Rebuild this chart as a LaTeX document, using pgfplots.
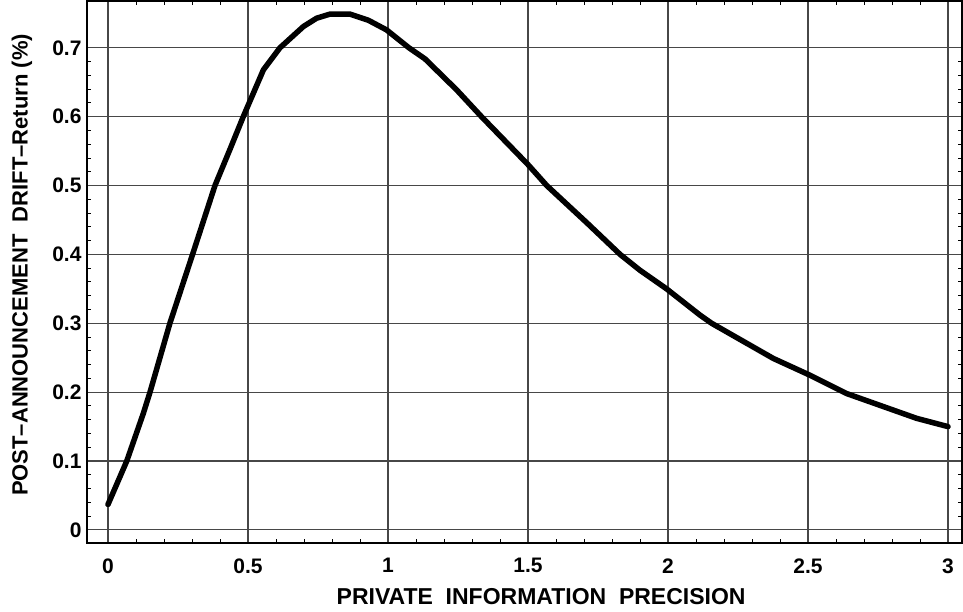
\documentclass[border=0pt]{standalone}
\usepackage{pgfplots}
\pgfplotsset{compat=1.18}
\usepackage{fontspec}
\setmainfont{Liberation Sans}
\begin{document}
\begin{tikzpicture}[x=1pt,y=1pt]
\useasboundingbox (0,0) rectangle (963,611);
\begin{axis}[
  at={(87pt,68pt)}, anchor=south west,
  scale only axis, width=875pt, height=542pt,
  xmin=-0.075, xmax=3.05, ymin=-0.019, ymax=0.768,
  xtick={0,0.5,1,1.5,2,2.5,3},
  xticklabels={0,0.5,1,1.5,2,2.5,3},
  ytick={0,0.1,0.2,0.3,0.4,0.5,0.6,0.7},
  yticklabels={0,0.1,0.2,0.3,0.4,0.5,0.6,0.7},
  minor x tick num=4, minor y tick num=4,
  tick align=inside, major tick length=0pt, minor tick length=4pt,
  minor tick style={line width=1pt, black},
  grid=major, major grid style={draw=black!72, line width=1.1pt},
  axis line style={line width=1.6pt, black},
  ticklabel style={font=\bfseries\fontsize{21}{21}\selectfont},
  xticklabel style={yshift=-12pt},
  yticklabel style={xshift=-2pt},
  xlabel={PRIVATE\ \ INFORMATION\ \ PRECISION},
  ylabel={POST--ANNOUNCEMENT\ \ DRIFT--Return (\%)},
  xlabel style={font=\bfseries\fontsize{23}{23}\selectfont, at={(axis description cs:0.519,0)}, anchor=center, yshift=-54pt},
  ylabel style={font=\bfseries\fontsize{22}{22}\selectfont, at={(axis description cs:0,0.513)}, anchor=center, yshift=65pt},
  clip=false,
]
\addplot[black, line width=5.5pt, line join=round, line cap=round] coordinates {
(0,0.037) (0.067,0.10) (0.126,0.169) (0.15,0.20) (0.221,0.30) (0.302,0.40)
(0.382,0.50) (0.436,0.553) (0.483,0.60) (0.555,0.668) (0.614,0.700)
(0.698,0.731) (0.745,0.743) (0.793,0.749) (0.864,0.749) (0.93,0.740)
(0.995,0.726) (1.075,0.700) (1.132,0.684) (1.245,0.639) (1.334,0.60)
(1.501,0.530) (1.567,0.50) (1.71,0.446) (1.829,0.40) (1.9,0.377)
(1.995,0.350) (2.114,0.312) (2.156,0.30) (2.376,0.249) (2.505,0.225)
(2.638,0.198) (2.888,0.162) (3.0,0.15)
};
\end{axis}
\end{tikzpicture}
\end{document}
